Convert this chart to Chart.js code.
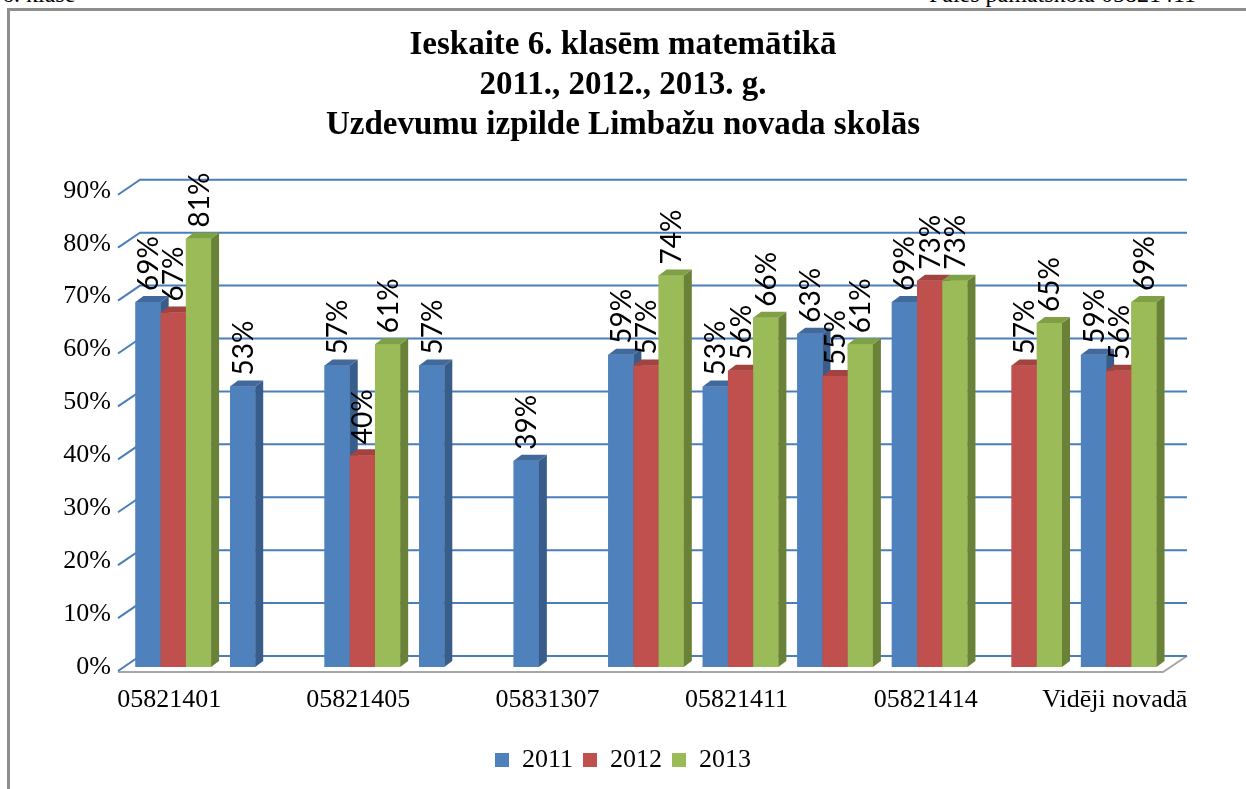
<!DOCTYPE html>
<html>
<head>
<meta charset="utf-8">
<script src="https://cdn.jsdelivr.net/npm/chart.js@4.4.0/dist/chart.umd.min.js"></script>
<style>
  html, body { margin: 0; padding: 0; background: #fff; overflow: hidden; }
  #frame { position: absolute; left: 7px; top: 8px; width: 1300px; height: 900px; border: 3px solid #8e8e8e; box-sizing: border-box; }
  .hdr { position: absolute; top: -19px; font: 24px "Liberation Serif", serif; color: #000; white-space: nowrap; }
  #wrap { position: absolute; left: 0; top: 0; width: 1246px; height: 789px; }
</style>
</head>
<body>
<div id="frame"></div>
<div class="hdr" style="left:2px">6. klase</div>
<div class="hdr" style="right:50px">Pāles pamatskola 05821411</div>
<div id="wrap"><canvas id="myChart" width="1246" height="789"></canvas></div>
<script>
// skolas (katra otrā nosaukums grafikā nav redzams)
const categories = ['05821401', '', '05821405', '', '05831307', '', '05821411', '', '05821414', '', 'Vidēji novadā'];
const years = ['2011', '2012', '2013'];
const v2011 = [69, 53, 57, 57, 39, 59, 53, 63, 69, null, 59];
const v2012 = [67, null, 40, null, null, 57, 56, 55, 73, 57, 56];
const v2013 = [81, null, 61, null, null, 74, 66, 61, 73, 65, 69];
const titleLines = ['Ieskaite 6. klasēm matemātikā', '2011., 2012., 2013. g.', 'Uzdevumu izpilde Limbažu novada skolās'];

const front = ['#4F81BD', '#C0504D', '#9BBB59'];
const side = ['#385D8A', '#8C3A37', '#6A8237'];
const top3d = ['#42699B', '#A2433F', '#80A046'];
const DX = 8, DY = 6;

const threeD = {
  id: 'threeD',
  beforeDatasetsDraw(chart) {
    const ctx = chart.ctx, a = chart.chartArea, ys = chart.scales.y;
    ctx.save();
    // grīda
    ctx.strokeStyle = '#a6a6a6';
    ctx.lineWidth = 2;
    ctx.beginPath();
    ctx.moveTo(a.left - 8, a.bottom + 5);
    ctx.lineTo(a.right - 3, a.bottom + 5);
    ctx.lineTo(a.right + 21, a.bottom - 11);
    ctx.stroke();
    // režģa līnijas ar aizmugures sienas slīpumu
    ctx.strokeStyle = '#4A7EBB';
    ctx.lineWidth = 2;
    ys.ticks.forEach(t => {
      const yf = ys.getPixelForValue(t.value);
      const yb = yf - 11;
      ctx.beginPath();
      ctx.moveTo(a.left - 8, yb + 15);
      ctx.lineTo(a.left + 14, yb);
      ctx.lineTo(a.right + 21, yb);
      ctx.stroke();
    });
    ctx.restore();
  },
  afterDatasetsDraw(chart) {
    const ctx = chart.ctx;
    ctx.save();
    for (let i = 0; i < chart.data.datasets.length; i++) {
      const meta = chart.getDatasetMeta(i);
      meta.data.forEach((el, j) => {
        const v = chart.data.datasets[i].data[j];
        if (v == null) return;
        const p = el.getProps(['x', 'y', 'base', 'width'], true);
        const l = p.x - p.width / 2, r = p.x + p.width / 2;
        ctx.fillStyle = front[i];
        ctx.fillRect(l, p.y, p.width, p.base - p.y);
        ctx.fillStyle = side[i];
        ctx.beginPath();
        ctx.moveTo(r, p.y); ctx.lineTo(r + DX, p.y - DY); ctx.lineTo(r + DX, p.base - DY); ctx.lineTo(r, p.base);
        ctx.closePath(); ctx.fill();
        ctx.fillStyle = top3d[i];
        ctx.beginPath();
        ctx.moveTo(l, p.y); ctx.lineTo(l + DX, p.y - DY); ctx.lineTo(r + DX, p.y - DY); ctx.lineTo(r, p.y);
        ctx.closePath(); ctx.fill();
      });
    }
    // vertikālās vērtību etiķetes
    ctx.fillStyle = '#000';
    ctx.font = '28px Lato';
    ctx.textAlign = 'left';
    ctx.textBaseline = 'middle';
    for (let i = 0; i < chart.data.datasets.length; i++) {
      const meta = chart.getDatasetMeta(i);
      meta.data.forEach((el, j) => {
        const v = chart.data.datasets[i].data[j];
        if (v == null) return;
        const p = el.getProps(['x', 'y'], true);
        ctx.save();
        ctx.translate(p.x + 1, p.y - DY - 5);
        ctx.rotate(-Math.PI / 2);
        ctx.fillText(v + '%', 0, 0);
        ctx.restore();
      });
    }
    ctx.restore();
  }
};

Chart.defaults.color = '#000';
Chart.defaults.font.family = '"Liberation Serif", serif';

const ctx = document.getElementById('myChart');
const chart = new Chart(ctx, {
  type: 'bar',
  data: {
    labels: categories,
    datasets: [
      { label: years[0], data: v2011, backgroundColor: front[0] },
      { label: years[1], data: v2012, backgroundColor: front[1] },
      { label: years[2], data: v2013, backgroundColor: front[2] }
    ]
  },
  options: {
    responsive: false,
    animation: false,
    categoryPercentage: 0.8,
    barPercentage: 1.0,
    layout: { padding: { left: 0, right: 0, top: 0, bottom: 6 } },
    scales: {
      x: {
        grid: { display: false, drawTicks: false },
        border: { display: false },
        ticks: { font: { size: 26 }, padding: 18, maxRotation: 0, autoSkip: false, labelOffset: -4 },
        afterFit(s) { s.height = 70; }
      },
      y: {
        min: 0, max: 90,
        grid: { display: false, drawTicks: false },
        border: { display: false },
        ticks: { stepSize: 10, font: { size: 26 }, padding: 15, callback: v => v + '%' },
        afterFit(s) { s.width = 126; }
      },
      // tukša vieta labajā pusē (3D sienas dziļumam)
      yR: {
        type: 'linear',
        position: 'right',
        grid: { display: false, drawTicks: false },
        border: { display: false },
        ticks: { display: false },
        afterFit(s) { s.width = 80; }
      }
    },
    plugins: {
      tooltip: { enabled: false },
      title: {
        display: true,
        text: titleLines,
        font: { size: 33, weight: 'bold', lineHeight: 1.22 },
        padding: { top: 25, bottom: 45 }
      },
      legend: {
        position: 'bottom',
        labels: { font: { size: 26 }, boxWidth: 14, boxHeight: 14, padding: 10 }
      }
    }
  },
  plugins: [threeD]
});
</script>
</body>
</html>
